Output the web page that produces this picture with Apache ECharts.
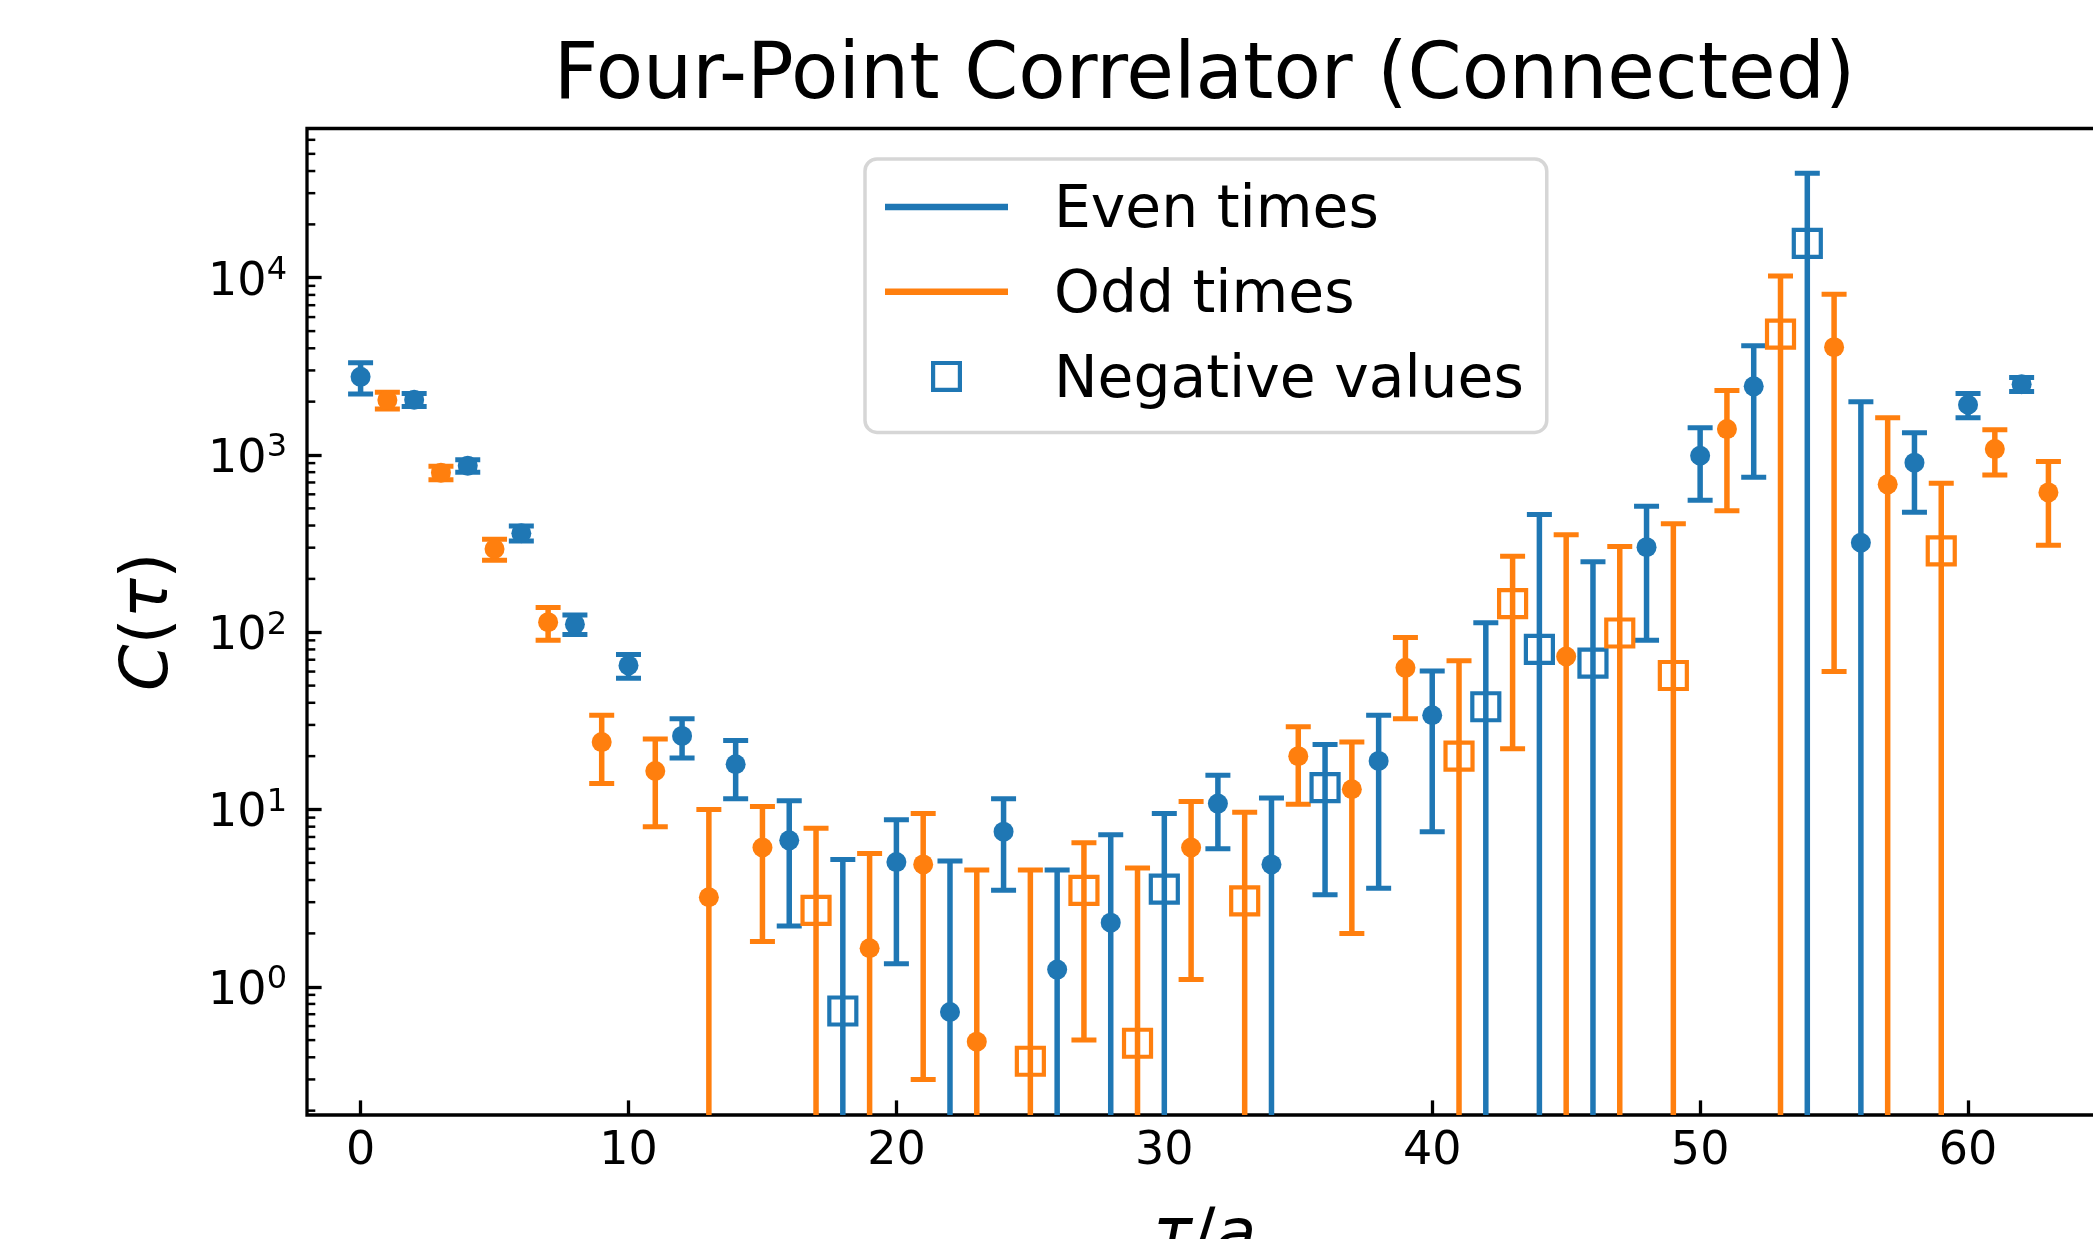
<!DOCTYPE html>
<html><head><meta charset="utf-8">
<script src="https://cdn.jsdelivr.net/npm/echarts@6/dist/echarts.min.js"></script>
<style>html,body{margin:0;padding:0;background:#fff}#c{width:2093px;height:1239px}</style>
</head><body><div id="c"></div>
<script>
// ---- data ----
const tauEven  = [0,2,4,6,8,10,12,14,16,18,20,22,24,26,28,30,32,34,36,38,40,42,44,46,48,50,52,54,56,58,60,62];
const corrEven = [2760,2050,870,362,111,65,26,18,6.7,-0.73,5.05,0.72,7.5,1.25,2.3,-3.55,10.8,4.9,-13.3,18.8,34,-38,-80,-67,302,990,2440,-15640,320,905,1920,2510];
const errEven  = [550,170,70,35,14,10,6.5,6.5,4.5,4.5,3.7,4.4,4.0,3.3,4.9,5.95,4.8,6.7,10,15.2,26.5,75,382,183,212,435,1690,23160,1680,430,300,230];
const tauOdd   = [1,3,5,7,9,11,13,15,17,19,21,23,25,27,29,31,33,35,37,39,41,43,45,47,49,51,53,55,57,59,61,63];
const corrOdd  = [2040,795,295,114,24,16.5,3.2,6.1,-2.7,1.65,4.9,0.49,-0.38,-3.5,-0.48,6.1,-3.05,20,13,63,-20,-145,73,-99,-57,1400,-4810,4060,683,-288,1080,615];
const errOdd   = [220,70,40,24,10,8.5,6.8,4.3,5.15,4.0,4.6,4.06,4.17,3.0,4.2,5.0,6.6,9.3,11,30.5,49,123,282,206,352,915,5420,4000,940,404,310,305];
const xTicks = [0,10,20,30,40,50,60];
const yTicks = [1,10,100,1000,10000];
const xRange = [-2, 65];
const yRange = [0.189, 69500];
const titleText = 'Four-Point Correlator (Connected)';
const legendNames = ['Even times','Odd times','Negative values'];

// ---- styles ----
const BLUE = '#1f77b4', ORANGE = '#ff7f0e';
const FONT = 'DejaVu Sans';

function barData(tau, corr, err) {
  return tau.map((t, i) => {
    const a = Math.abs(corr[i]);
    const lo = a - err[i];
    return [t, a, lo > 0 ? lo : yRange[0], a + err[i], lo > 0 ? 1 : 0];
  });
}
function posData(tau, corr) {
  const out = [];
  tau.forEach((t, i) => { if (corr[i] > 0) out.push([t, corr[i]]); });
  return out;
}
function negData() {
  const out = [];
  tauEven.forEach((t, i) => { if (corrEven[i] < 0) out.push({value: [t, -corrEven[i]], itemStyle: {borderColor: BLUE}}); });
  tauOdd.forEach((t, i) => { if (corrOdd[i] < 0) out.push({value: [t, -corrOdd[i]], itemStyle: {borderColor: ORANGE}}); });
  return out;
}
const minorTicks = [];
for (let p = -1; p <= 4; p++) for (let k = 2; k <= 9; k++) {
  const v = k * Math.pow(10, p);
  if (v > yRange[0] && v < yRange[1]) minorTicks.push([xRange[0], v]);
}

function renderErr(params, api) {
  const x = api.value(0);
  const top = api.coord([x, api.value(3)]);
  const bot = api.coord([x, api.value(2)]);
  const color = api.visual('color');
  const ch = [
    {type: 'line', shape: {x1: top[0], y1: top[1], x2: bot[0], y2: bot[1]}, style: {stroke: color, lineWidth: 5.5}},
    {type: 'line', shape: {x1: top[0] - 12.5, y1: top[1], x2: top[0] + 12.5, y2: top[1]}, style: {stroke: color, lineWidth: 5}}
  ];
  if (api.value(4) === 1) ch.push({type: 'line', shape: {x1: bot[0] - 12.5, y1: bot[1], x2: bot[0] + 12.5, y2: bot[1]}, style: {stroke: color, lineWidth: 5}});
  return {type: 'group', children: ch};
}
function renderMinor(params, api) {
  const p = api.coord([api.value(0), api.value(1)]);
  return {type: 'line', shape: {x1: p[0], y1: p[1], x2: p[0] + 8.3, y2: p[1]}, style: {stroke: '#000', lineWidth: 2.5}};
}

// legend icons: content sits in the upper 31px of a 164x41 box, so the label lands slightly lower
const LINE_ICON = 'path://M0,0M164,41M0,12.25L123,12.25L123,18.75L0,18.75Z';
const SQ_ICON = 'path://M0,0M164,41M46,0L77,0L77,31L46,31ZM50.2,4.2L50.2,26.8L72.8,26.8L72.8,4.2Z';

const chart = echarts.init(document.getElementById('c'), null, {renderer: 'canvas'});
chart.setOption({
  animation: false,
  backgroundColor: '#fff',
  title: {
    text: titleText, left: 1204.5, top: 39, textAlign: 'center', padding: 0,
    textStyle: {fontFamily: FONT, fontSize: 77.5, fontWeight: 'normal', color: '#000', lineHeight: 77.5}
  },
  legend: {
    orient: 'vertical', left: 865, top: 159, padding: [23, 23, 21, 20], itemGap: 24.7,
    itemWidth: 164, itemHeight: 41, selectedMode: false,
    backgroundColor: 'rgba(255,255,255,0.8)', borderColor: '#d6d6d6', borderWidth: 3.5, borderRadius: 12,
    textStyle: {fontFamily: FONT, fontSize: 58.3, color: '#000', lineHeight: 60},
    data: [
      {name: legendNames[0], icon: LINE_ICON, itemStyle: {color: BLUE, borderWidth: 0}},
      {name: legendNames[1], icon: LINE_ICON, itemStyle: {color: ORANGE, borderWidth: 0}},
      {name: legendNames[2], icon: SQ_ICON, itemStyle: {color: BLUE, borderWidth: 0}}
    ]
  },
  grid: {show: true, left: 307, right: -9, top: 128.5, bottom: 124, containLabel: false, outerBoundsMode: 'none',
    borderColor: '#000', borderWidth: 3.3, backgroundColor: 'rgba(0,0,0,0)'},
  xAxis: {
    type: 'value', min: xRange[0], max: xRange[1],
    axisLine: {show: false, onZero: false}, splitLine: {show: false},
    axisTick: {inside: true, length: 14.6, customValues: xTicks, lineStyle: {width: 3.3, color: '#000'}},
    axisLabel: {margin: 14, customValues: xTicks, fontFamily: FONT, fontSize: 46, color: '#000', lineHeight: 46},
    name: '{i|τ}/{i|a}', nameLocation: 'middle', nameGap: 89,
    nameTextStyle: {fontFamily: FONT, fontSize: 66.7, color: '#000', lineHeight: 66.7,
      rich: {i: {fontFamily: FONT, fontStyle: 'italic', fontSize: 66.7, color: '#000', lineHeight: 66.7}}}
  },
  yAxis: {
    type: 'log', logBase: 10, min: yRange[0], max: yRange[1],
    axisLine: {show: false, onZero: false}, splitLine: {show: false},
    axisTick: {inside: true, length: 14.6, customValues: yTicks, lineStyle: {width: 3.3, color: '#000'}},
    axisLabel: {
      margin: 20, customValues: yTicks, color: '#000',
      formatter: function (v) { return '{b|10}{s|' + Math.round(Math.log10(v)) + '}'; },
      rich: {
        b: {fontFamily: FONT, fontSize: 46, color: '#000', lineHeight: 46, padding: [5, 0, 0, 0], verticalAlign: 'top'},
        s: {fontFamily: FONT, fontSize: 32, color: '#000', lineHeight: 32, verticalAlign: 'top'}
      }
    },
    name: '{i|C}({i|τ})', nameLocation: 'middle', nameGap: 124,
    nameTextStyle: {fontFamily: FONT, fontSize: 66.7, color: '#000', lineHeight: 66.7,
      rich: {i: {fontFamily: FONT, fontStyle: 'italic', fontSize: 66.7, color: '#000', lineHeight: 66.7}}}
  },
  series: [
    {type: 'custom', name: 'minor ticks', silent: true, clip: false, renderItem: renderMinor, data: minorTicks, z: 5},
    {type: 'custom', name: legendNames[0], renderItem: renderErr, data: barData(tauEven, corrEven, errEven), itemStyle: {color: BLUE}, clip: true},
    {type: 'custom', name: legendNames[1], renderItem: renderErr, data: barData(tauOdd, corrOdd, errOdd), itemStyle: {color: ORANGE}, clip: true},
    {type: 'scatter', name: legendNames[0], symbol: 'circle', symbolSize: 20, data: posData(tauEven, corrEven), itemStyle: {color: BLUE, opacity: 1}},
    {type: 'scatter', name: legendNames[1], symbol: 'circle', symbolSize: 20, data: posData(tauOdd, corrOdd), itemStyle: {color: ORANGE, opacity: 1}},
    {type: 'scatter', name: legendNames[2], symbol: 'rect', symbolSize: 27, data: negData(),
      itemStyle: {color: 'rgba(0,0,0,0)', borderColor: BLUE, borderWidth: 4.2, opacity: 1}}
  ]
});
</script></body></html>
